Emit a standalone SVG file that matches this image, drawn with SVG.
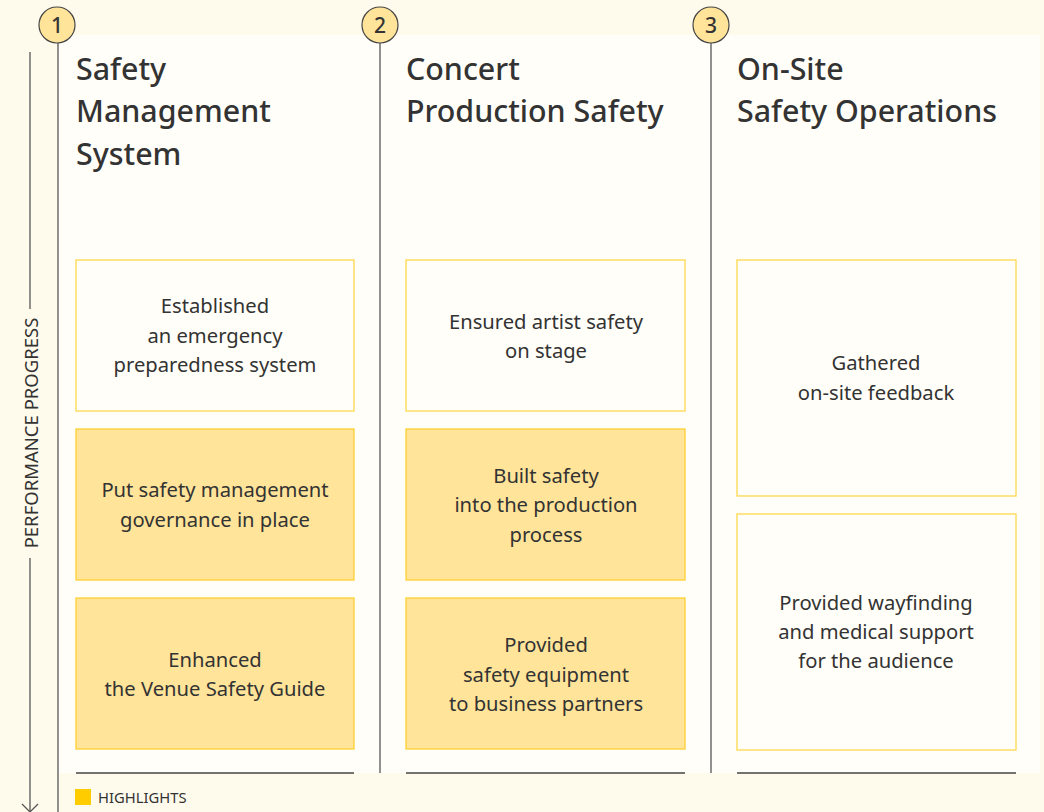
<svg xmlns="http://www.w3.org/2000/svg" width="1044" height="812" viewBox="0 0 1044 812">
<style>
.t{font-family:"Noto Sans","Liberation Sans",sans-serif;fill:#333}
.title{font-size:30.4px;font-weight:500}
.bt{font-size:20.2px;text-anchor:middle}
.num{font-size:21px;font-weight:500;text-anchor:middle}
.plain{fill:#FFFEF8;stroke:#FFD84D;stroke-width:1.3}
.hl{fill:#FFE49A;stroke:#FFD033;stroke-width:1.3}
.div{stroke:#555;stroke-width:1.3;fill:none}
.base{stroke:#444;stroke-width:1.5}
.circ{fill:#FFE49A;stroke:#444;stroke-width:1.2}
</style>
<rect x="0" y="0" width="1044" height="812" fill="#FFFBEC"/>
<rect x="58" y="35" width="982" height="738" fill="#FFFEF8"/>

<g id="axis">
<line x1="30" y1="52" x2="30" y2="309" class="div"/>
<line x1="30" y1="558" x2="30" y2="811" class="div"/>
<polyline points="22,804 30,812 38,804" class="div"/>
<text class="t" x="0" y="0" font-size="18.5" text-anchor="middle" transform="translate(37.5,433) rotate(-90)">PERFORMANCE PROGRESS</text>
</g>

<g id="connectors">
<line x1="58" y1="43" x2="58" y2="812" class="div"/>
<line x1="380" y1="43" x2="380" y2="773" class="div"/>
<line x1="711" y1="43" x2="711" y2="773" class="div"/>
<line x1="76" y1="773" x2="354" y2="773" class="base"/>
<line x1="406" y1="773" x2="685" y2="773" class="base"/>
<line x1="737" y1="773" x2="1016" y2="773" class="base"/>
</g>

<g id="col1-head">
<circle cx="57" cy="25" r="18" class="circ"/>
<text class="t num" x="57" y="32.5">1</text>
<text class="t title" x="76" y="80">Safety</text>
<text class="t title" x="76" y="122">Management</text>
<text class="t title" x="76" y="165">System</text>
</g>
<g id="col2-head">
<circle cx="380" cy="25" r="18" class="circ"/>
<text class="t num" x="380" y="32.5">2</text>
<text class="t title" x="406" y="80">Concert</text>
<text class="t title" x="406" y="122">Production Safety</text>
</g>
<g id="col3-head">
<circle cx="711" cy="25" r="18" class="circ"/>
<text class="t num" x="711" y="32.5">3</text>
<text class="t title" x="737" y="80">On-Site</text>
<text class="t title" x="737" y="122">Safety Operations</text>
</g>

<g id="c1b1">
<rect x="76" y="260" width="278" height="151" class="plain"/>
<text class="t bt" x="215" y="313">Established</text>
<text class="t bt" x="215" y="343">an emergency</text>
<text class="t bt" x="215" y="372">preparedness system</text>
</g>
<g id="c1b2">
<rect x="76" y="429" width="278" height="151" class="hl"/>
<text class="t bt" x="215" y="497">Put safety management</text>
<text class="t bt" x="215" y="527">governance in place</text>
</g>
<g id="c1b3">
<rect x="76" y="598" width="278" height="151" class="hl"/>
<text class="t bt" x="215" y="667">Enhanced</text>
<text class="t bt" x="215" y="696">the Venue Safety Guide</text>
</g>

<g id="c2b1">
<rect x="406" y="260" width="279" height="151" class="plain"/>
<text class="t bt" x="546" y="329">Ensured artist safety</text>
<text class="t bt" x="546" y="358">on stage</text>
</g>
<g id="c2b2">
<rect x="406" y="429" width="279" height="151" class="hl"/>
<text class="t bt" x="546" y="483">Built safety</text>
<text class="t bt" x="546" y="512">into the production</text>
<text class="t bt" x="546" y="542">process</text>
</g>
<g id="c2b3">
<rect x="406" y="598" width="279" height="151" class="hl"/>
<text class="t bt" x="546" y="652">Provided</text>
<text class="t bt" x="546" y="682">safety equipment</text>
<text class="t bt" x="546" y="711">to business partners</text>
</g>

<g id="c3b1">
<rect x="737" y="260" width="279" height="236" class="plain"/>
<text class="t bt" x="876" y="370">Gathered</text>
<text class="t bt" x="876" y="400">on-site feedback</text>
</g>
<g id="c3b2">
<rect x="737" y="514" width="279" height="236" class="plain"/>
<text class="t bt" x="876" y="610">Provided wayfinding</text>
<text class="t bt" x="876" y="639">and medical support</text>
<text class="t bt" x="876" y="668">for the audience</text>
</g>

<g id="legend">
<rect x="75" y="789" width="16" height="16" fill="#FFCC00"/>
<text class="t" x="98" y="803" font-size="14.8">HIGHLIGHTS</text>
</g>
</svg>
